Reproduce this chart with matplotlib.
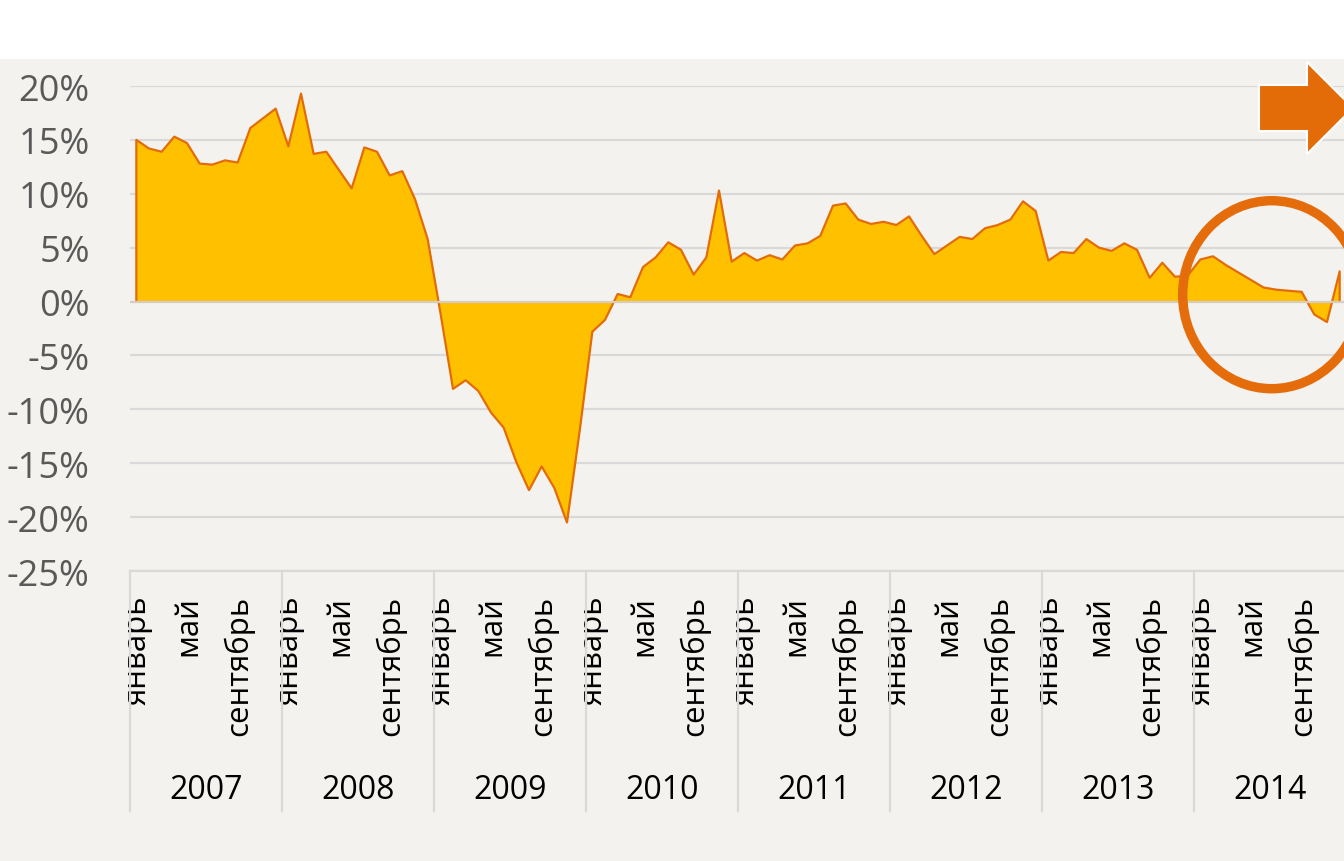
import matplotlib
matplotlib.use("Agg")
import matplotlib.pyplot as plt
import matplotlib.transforms as mtrans
from matplotlib.patches import Rectangle, Polygon, Ellipse
import numpy as np

plt.rcParams['font.family'] = ['Open Sans', 'DejaVu Sans']

# годовой прирост, % (помесячно, январь 2007 - декабрь 2014)
years = ['2007', '2008', '2009', '2010', '2011', '2012', '2013', '2014']
v2007 = [15.0, 14.2, 13.9, 15.3, 14.7, 12.8, 12.7, 13.1, 12.9, 16.1, 17.0, 17.9]
v2008 = [14.4, 19.3, 13.7, 13.9, 12.2, 10.5, 14.3, 13.9, 11.7, 12.1, 9.5, 5.8]
v2009 = [-1.0, -8.1, -7.3, -8.3, -10.3, -11.7, -14.9, -17.5, -15.3, -17.3, -20.5, -12.0]
v2010 = [-2.8, -1.7, 0.7, 0.4, 3.2, 4.1, 5.5, 4.8, 2.5, 4.1, 10.3, 3.7]
v2011 = [4.5, 3.8, 4.3, 3.9, 5.2, 5.4, 6.1, 8.9, 9.1, 7.6, 7.2, 7.4]
v2012 = [7.1, 7.9, 6.1, 4.4, 5.2, 6.0, 5.8, 6.8, 7.1, 7.6, 9.3, 8.4]
v2013 = [3.8, 4.6, 4.5, 5.8, 5.0, 4.7, 5.4, 4.8, 2.2, 3.6, 2.3, 2.4]
v2014 = [3.9, 4.2, 3.4, 2.7, 2.0, 1.3, 1.1, 1.0, 0.9, -1.2, -1.9, 2.8]
month_labels = ['январь', 'май', 'сентябрь']
month_idx = [0, 4, 8]
yticks = [-25, -20, -15, -10, -5, 0, 5, 10, 15, 20]

vals = np.array(v2007 + v2008 + v2009 + v2010 + v2011 + v2012 + v2013 + v2014)
x = np.arange(len(vals)) + 0.5

W, H = 1344, 862
fig = plt.figure(figsize=(W / 100, H / 100), dpi=100, facecolor='white')

def fx(px):
    return px / W

def fy(py):
    return 1 - py / H

# бежевый фон под графиком
fig.patches.append(Rectangle((0, 0), 1, fy(60), transform=fig.transFigure,
                             facecolor='#F3F2EE', edgecolor='none', zorder=-5))

ax = fig.add_axes([fx(130), fy(572), fx(1216), fy(87) - fy(572)])
ax.set_facecolor('none')
ax.set_xlim(0, len(vals))
ax.set_ylim(-25, 20)

for t in yticks:
    if t == 0:
        continue
    ax.axhline(t, color='#D9D9D9', lw=1.6, zorder=0)

ax.fill_between(x, vals, 0, color='#FFC000', lw=0, zorder=1)
ax.plot(np.r_[x[0], x, x[-1]], np.r_[0, vals, 0], color='#E36C09', lw=1.6, zorder=2)
ax.axhline(0, color='#D8CCC2', lw=1.6, zorder=3)

for s in ax.spines.values():
    s.set_visible(False)

ax.set_yticks(yticks)
ax.set_yticklabels([f'{t}%' for t in yticks], fontsize=26, color='#595959')
ax.tick_params(axis='y', length=0, pad=29)

ticks, labels = [], []
for i in range(len(years)):
    for m, lab in zip(month_idx, month_labels):
        ticks.append(i * 12 + m + 0.6)
        labels.append(lab)
ax.set_xticks(ticks)
ax.set_xticklabels(labels, rotation=90, fontsize=22.5, color='black', va='top', ha='center')
ax.tick_params(axis='x', length=0, pad=17)

# подписи лет и разделители
tr = mtrans.blended_transform_factory(ax.transData, fig.transFigure)
for i, yr in enumerate(years):
    ax.text(i * 12 + 6, fy(791), yr, transform=tr, ha='center', va='center',
            fontsize=23, color='black')
for i in range(len(years) + 1):
    ax.plot([i * 12, i * 12], [fy(572), fy(812)], transform=tr, color='#D9D9D9',
            lw=1.6, clip_on=False)
ax.plot([0, len(vals)], [fy(572), fy(572)], transform=tr, color='#D9D9D9', lw=1.6, clip_on=False)

# круг и стрелка
fig.patches.append(Ellipse((fx(1271.7), fy(295.7)), fx(178), 188 / H, transform=fig.transFigure,
                           facecolor='none', edgecolor='#E46C0A', lw=6.8, zorder=5))
arrow = [(1259, 86), (1307, 86), (1307, 63), (1353, 109), (1307, 155), (1307, 132), (1259, 132)]
fig.patches.append(Polygon([(fx(a), fy(b)) for a, b in arrow], closed=True, transform=fig.transFigure,
                           facecolor='#E36C09', edgecolor='white', lw=1.5, zorder=5))

fig.savefig('out.png', dpi=100, facecolor=fig.get_facecolor())
